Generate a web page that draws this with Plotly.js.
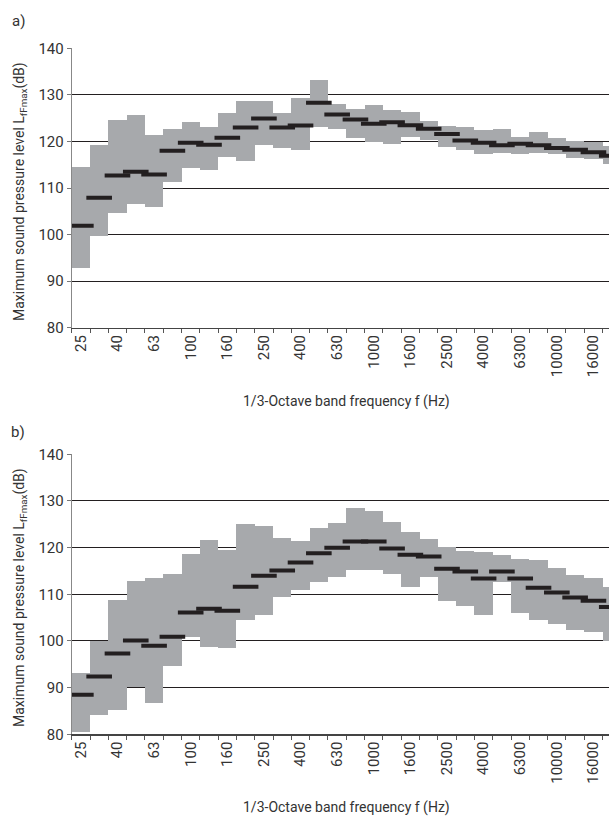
<!DOCTYPE html>
<html>
<head>
<meta charset="utf-8">
<script src="https://cdn.plot.ly/plotly-3.0.1.min.js"></script>
<style>html,body{margin:0;padding:0;background:#fff;}#chart{width:609px;height:816px;}</style>
</head>
<body>
<div id="chart"></div>
<script>
// 1/3-octave bands (Hz)
const bands = ["25","31.5","40","50","63","80","100","125","160","200","250","315","400","500","630","800","1000","1250","1600","2000","2500","3150","4000","5000","6300","8000","10000","12500","16000","20000"];
const tickLabels = ["25","40","63","100","160","250","400","630","1000","1600","2500","4000","6300","10000","16000"];

// Panel a)
const aHigh   = [114.6,119.2,124.5,125.7,121.4,122.7,124.2,123.1,126.1,128.7,128.7,126.1,129.3,133.2,128.0,126.9,127.8,126.8,126.3,124.4,123.3,123.0,122.5,122.7,120.9,122.0,120.7,120.2,119.8,119.0];
const aLow    = [92.9,99.6,104.6,106.6,106.0,111.2,114.4,113.9,116.7,115.7,119.2,118.5,118.2,123.2,122.7,120.8,119.8,119.5,120.9,120.3,118.9,118.1,117.2,117.6,117.2,117.5,117.4,116.5,116.3,115.2];
const aMedian = [101.9,107.9,112.7,113.5,112.9,118.0,119.7,119.3,120.8,123.0,124.9,123.0,123.4,128.3,125.8,124.7,123.8,124.1,123.5,122.7,121.6,120.2,119.7,119.2,119.5,119.2,118.6,118.2,117.7,116.9];

// Panel b)
const bHigh   = [93.1,100.0,108.8,112.9,113.5,114.4,118.6,121.6,119.4,125.1,124.6,122.1,121.4,124.1,125.3,128.5,127.9,125.5,123.4,121.9,120.1,119.3,119.0,118.4,117.6,117.4,115.6,114.1,113.5,111.5];
const bLow    = [80.4,84.2,85.3,90.1,86.6,94.7,100.9,98.8,98.4,104.4,105.6,109.5,111.0,112.7,113.8,115.2,115.2,114.4,111.6,113.6,108.6,107.4,105.6,112.7,105.9,104.4,103.7,102.4,102.0,100.0];
const bMedian = [88.5,92.4,97.3,100.1,99.0,100.9,106.1,106.9,106.5,111.6,114.0,115.1,116.8,118.8,120.0,121.3,121.3,119.8,118.5,118.1,115.5,114.9,113.4,114.9,113.4,111.4,110.4,109.3,108.6,107.3];

const FONT = "Roboto, 'Liberation Sans', sans-serif";
const TXT = "#333333";
const BOX = "#a7a9ac";
const MED = "#231f20";

// band positions on the axis = their index in the band list
const xpos = bands.map((b, i) => i);
const tickPos = tickLabels.map(l => bands.indexOf(l));

function panel(high, low, med, xa, ya) {
  return [
    {type:"bar", x:xpos, base:low, y:high.map((h,i)=>h-low[i]), width:1,
     marker:{color:BOX, line:{width:0}}, xaxis:xa, yaxis:ya, hoverinfo:"skip", showlegend:false},
    {type:"scatter", mode:"markers", x:xpos, y:med, xaxis:xa, yaxis:ya,
     marker:{symbol:"line-ew", size:18.3, color:MED, line:{width:4, color:MED}},
     hoverinfo:"skip", showlegend:false}
  ];
}

const data = [...panel(aHigh,aLow,aMedian,"x","y"), ...panel(bHigh,bLow,bMedian,"x2","y2")];

function xAxis(anchor) {
  return {type:"linear", anchor:anchor, domain:[71.7/609,1], range:[-0.5,28.85],
    tickmode:"array", tickvals:tickPos, ticktext:tickLabels, ticks:"", tickangle:-90,
    minor:{tickmode:"linear", tick0:-0.5, dtick:1, ticks:"outside", ticklen:4, tickwidth:1, tickcolor:"#555", showgrid:false},
    showgrid:false, zeroline:false, showline:true, linecolor:"#444", linewidth:1.3,
    tickfont:{family:FONT, size:15, color:TXT}, fixedrange:true};
}
function yAxis(anchor, dom) {
  return {anchor:anchor, domain:dom, range:[80,140], dtick:10, tick0:80,
    ticks:"outside", ticklen:4, tickwidth:1, tickcolor:"#777",
    showgrid:true, gridcolor:"#231f20", gridwidth:1, zeroline:false,
    showline:true, linecolor:"#888", linewidth:1,
    tickfont:{family:FONT, size:15, color:TXT}, fixedrange:true};
}

const ytitle = "Maximum sound pressure level L<sub>fFmax</sub>(dB)";
const xtitle = "1/3-Octave band frequency f (Hz)";
function ann(text, x, y, size, extra) {
  return Object.assign({text:text, xref:"paper", yref:"paper", x:x/609, y:1-y/816,
    xanchor:"center", yanchor:"middle", showarrow:false,
    font:{family:FONT, size:size, color:TXT}}, extra||{});
}

const layout = {
  width:609, height:816, margin:{l:0,r:0,t:0,b:0}, paper_bgcolor:"#fff", plot_bgcolor:"#fff",
  barmode:"overlay", bargap:0, showlegend:false,
  xaxis: xAxis("y"), yaxis: yAxis("x", [1-327.7/816, 1-48.3/816]),
  xaxis2: xAxis("y2"), yaxis2: yAxis("x2", [1-734.3/816, 1-454.3/816]),
  annotations:[
    ann("a)", 18, 21, 15),
    ann("b)", 18, 432, 15),
    ann(ytitle, 20, 192, 14, {textangle:-90}),
    ann(ytitle, 20, 598, 14, {textangle:-90}),
    ann(xtitle, 346, 401, 14),
    ann(xtitle, 346, 807, 14)
  ]
};

Plotly.newPlot("chart", data, layout, {staticPlot:true, displayModeBar:false});
</script>
</body>
</html>
